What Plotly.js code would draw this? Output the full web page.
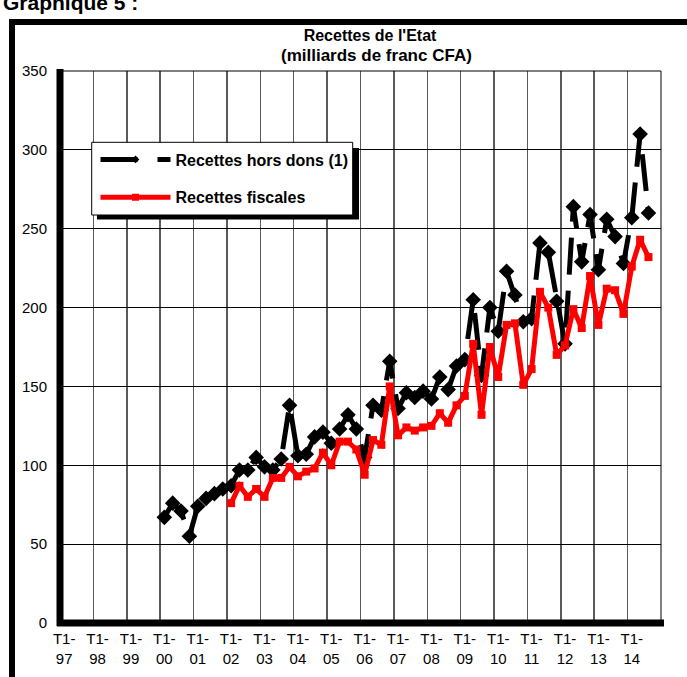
<!DOCTYPE html>
<html>
<head>
<meta charset="utf-8">
<script src="https://cdn.plot.ly/plotly-3.0.1.min.js"></script>
<style>
  html, body { margin: 0; padding: 0; background: #fff; }
  #wrap { position: relative; width: 687px; height: 677px; overflow: hidden; }
  #chart { position: absolute; left: 0; top: 0; width: 687px; height: 677px; }
  #frame { position: absolute; left: 9px; top: 19px; width: 673px; height: 654px;
           border-left: 6px solid #000; border-top: 6px solid #000;
           border-right: 3px solid #000; border-bottom: 3px solid #000; pointer-events: none; }
</style>
</head>
<body>
<div id="wrap">
  <div id="chart"></div>
  <div id="frame"></div>
</div>
<script>
// Year labels of the quarterly category axis (one label on each first quarter)
const yearLabels = ['97','98','99','00','01','02','03','04','05','06','07','08','09','10','11','12','13','14'];
const quarterPrefix = 'T1-';

// Recettes hors dons (1) : quarterly, from T1-2000
const horsDonsStartYear = '00';
const recettesHorsDons = [
  67, 76, 71, 55,
  74, 79, 82, 85,
  87, 97, 97, 105,
  99, 97, 104, 138,
  106, 107, 118, 121,
  114, 123, 132, 123,
  105, 138, 135, 166,
  136, 146, 143, 147,
  142, 156, 148, 163,
  167, 205, 157, 200,
  185, 223, 208, 191,
  193, 241, 235, 204,
  177, 264, 229, 259,
  224, 256, 245, 228,
  257, 310, 260
];

// Recettes fiscales : quarterly, from T1-2002
const fiscalesStartYear = '02';
const recettesFiscales = [
  76, 87, 80, 85,
  80, 92, 92, 99,
  93, 96, 98, 108,
  100, 115, 115, 110,
  94, 116, 113, 150,
  119, 124, 122, 124,
  125, 133, 127, 138,
  144, 177, 132, 175,
  156, 189, 190, 151,
  161, 210, 200, 170,
  176, 199, 187, 220,
  189, 212, 211, 196,
  226, 243, 232
];

const seriesNames = ['Recettes hors dons (1)', 'Recettes fiscales'];
const titleLines = ["Recettes de l'Etat", '(milliards de franc CFA)'];
const headerText = 'Graphique 5 :';

function quarterIndex(startYear, values) {
  const base = yearLabels.indexOf(startYear) * 4;
  return values.map((_, i) => base + i);
}

const nQuarters = yearLabels.length * 4;
const tickVals = yearLabels.map((_, i) => i * 4);
const tickText = yearLabels.map(y => quarterPrefix + '<br>' + y);
const boundaryVals = yearLabels.slice(1).map((_, i) => (i + 1) * 4 - 0.5);

const FONT = 'Arial, "Liberation Sans", Helvetica, sans-serif';

const traces = [
  {
    x: quarterIndex(horsDonsStartYear, recettesHorsDons),
    y: recettesHorsDons,
    type: 'scatter', mode: 'lines+markers',
    showlegend: false,
    line: { color: '#000', width: 5, dash: '37px,16px' },
    marker: { symbol: 'diamond', size: 12, color: '#000' },
    cliponaxis: false
  },
  {
    x: quarterIndex(fiscalesStartYear, recettesFiscales),
    y: recettesFiscales,
    type: 'scatter', mode: 'lines+markers',
    showlegend: false,
    line: { color: '#ff0000', width: 5 },
    marker: { symbol: 'square', size: 8, color: '#ff0000' },
    cliponaxis: false
  },
  // legend samples
  {
    x: [null], y: [null], type: 'scatter', mode: 'lines+markers',
    name: seriesNames[0], legendgroup: 'a',
    line: { color: '#000', width: 5, dash: '37px,20px' },
    marker: { symbol: 'diamond', size: 6, color: '#000' }
  },
  {
    x: [null], y: [null], type: 'scatter', mode: 'lines+markers',
    name: seriesNames[1], legendgroup: 'b',
    line: { color: '#ff0000', width: 5 },
    marker: { symbol: 'square', size: 7, color: '#ff0000' }
  }
];

const W = 687, H = 677;
const mL = 60, mR = 26, mT = 71, mB = 54;
const pw = W - mL - mR, ph = H - mT - mB;
const px = v => (v - mL) / pw;
const py = v => (H - mB - v) / ph;

const layout = {
  width: W, height: H,
  margin: { l: mL, r: mR, t: mT, b: mB, pad: 0 },
  paper_bgcolor: '#fff', plot_bgcolor: '#fff',
  font: { family: FONT, color: '#000', size: 15 },
  title: {
    text: titleLines[0],
    font: { family: FONT, size: 16, weight: 'bold', color: '#000' },
    x: 370 / W, xanchor: 'center', xref: 'container',
    y: 1 - 35 / H, yanchor: 'middle', yref: 'container'
  },
  xaxis: {
    type: 'linear',
    range: [-0.5, nQuarters - 0.5],
    tickmode: 'array', tickvals: tickVals, ticktext: tickText,
    showgrid: false, zeroline: false, showline: false,
    ticks: '', ticklabelstandoff: 5,
    tickfont: { family: FONT, size: 15, color: '#000' },
    minor: { tickmode: 'array', tickvals: boundaryVals, showgrid: true, gridcolor: '#5a5a5a', gridwidth: 1.5, ticks: '' },
    fixedrange: true
  },
  yaxis: {
    range: [0, 350],
    tickmode: 'array', tickvals: [0, 50, 100, 150, 200, 250, 300, 350],
    showgrid: true, gridcolor: '#000', gridwidth: 1,
    zeroline: false, showline: false, ticks: '',
    ticklabelstandoff: 12,
    tickfont: { family: FONT, size: 15, color: '#000' },
    fixedrange: true
  },
  legend: {
    x: px(95.5), y: py(142.5), xanchor: 'left', yanchor: 'top',
    bgcolor: 'rgba(0,0,0,0)', borderwidth: 0,
    font: { family: FONT, size: 16, weight: 'bold', color: '#000' },
    itemwidth: 70, tracegroupgap: 14
  },
  shapes: [
    // legend shadow and box
    { type: 'rect', xref: 'paper', yref: 'paper', x0: px(97), x1: px(359), y0: py(219.5), y1: py(148),
      fillcolor: '#000', line: { width: 0 }, layer: 'above' },
    { type: 'rect', xref: 'paper', yref: 'paper', x0: px(91.7), x1: px(352.7), y0: py(215), y1: py(142.3),
      fillcolor: '#fff', line: { color: '#000', width: 1 }, layer: 'above' },
    // plot border
    { type: 'rect', xref: 'paper', yref: 'paper', x0: 0, x1: 1, y0: 0, y1: 1,
      line: { color: '#000', width: 1 }, layer: 'above' },
    // thick axes
    { type: 'line', xref: 'paper', yref: 'paper', x0: 0, x1: 0, y0: py(626), y1: 1 + 2 / ph,
      line: { color: '#000', width: 7 }, layer: 'above' },
    { type: 'line', xref: 'paper', yref: 'paper', x0: px(57), x1: px(664), y0: 0, y1: 0,
      line: { color: '#000', width: 7 }, layer: 'above' }
  ],
  annotations: [
    { text: titleLines[1], xref: 'paper', yref: 'paper', x: px(376), y: py(56),
      xanchor: 'center', yanchor: 'middle', showarrow: false,
      font: { family: FONT, size: 17, weight: 'bold', color: '#000' } },
    { text: headerText, xref: 'paper', yref: 'paper', x: px(1), y: py(2),
      xanchor: 'left', yanchor: 'middle', showarrow: false,
      font: { family: FONT, size: 21, weight: 'bold', color: '#000' } }
  ]
};

Plotly.newPlot('chart', traces, layout, { staticPlot: true, displayModeBar: false });
</script>
</body>
</html>
